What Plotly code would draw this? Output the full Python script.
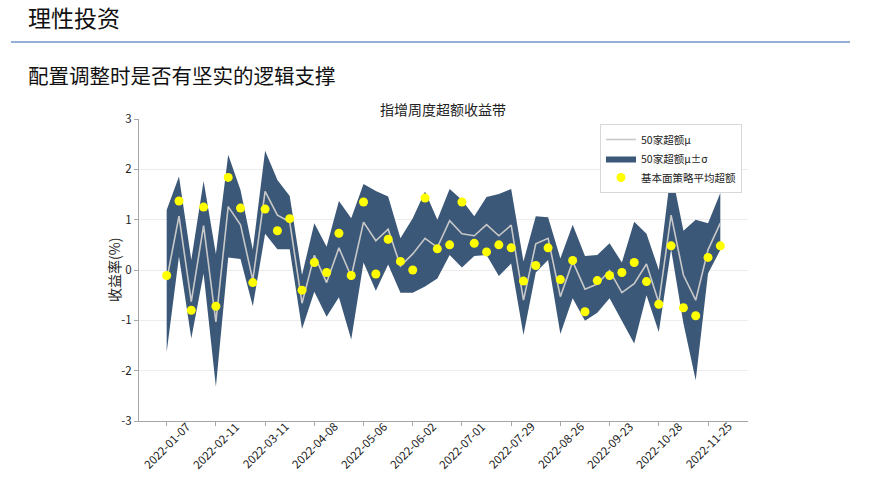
import plotly.graph_objects as go

dates = [
    "2022-01-07", "2022-01-14", "2022-01-21", "2022-01-28", "2022-02-11", "2022-02-18",
    "2022-02-25", "2022-03-04", "2022-03-11", "2022-03-18", "2022-03-25", "2022-04-01",
    "2022-04-08", "2022-04-15", "2022-04-22", "2022-04-29", "2022-05-06", "2022-05-13",
    "2022-05-20", "2022-05-27", "2022-06-02", "2022-06-10", "2022-06-17", "2022-06-24",
    "2022-07-01", "2022-07-08", "2022-07-15", "2022-07-22", "2022-07-29", "2022-08-05",
    "2022-08-12", "2022-08-19", "2022-08-26", "2022-09-02", "2022-09-09", "2022-09-16",
    "2022-09-23", "2022-09-30", "2022-10-14", "2022-10-21", "2022-10-28", "2022-11-04",
    "2022-11-11", "2022-11-18", "2022-11-25", "2022-12-02",
]

upper = [1.19, 1.86, 0.20, 1.77, 0.32, 2.29, 1.59, 0.40, 2.37, 1.79, 1.47, -0.10,
         0.93, 0.46, 1.37, 1.03, 1.71, 1.57, 1.46, 0.63, 1.03, 1.56, 1.00, 1.61,
         1.39, 1.07, 1.45, 1.51, 1.61, 0.17, 1.07, 1.05, 0.23, 0.90, 0.28, 0.30,
         0.53, 0.15, 0.96, 0.72, 0.00, 1.99, 0.78, 1.00, 0.93, 1.53]

mu = [-0.20, 1.07, -0.63, 0.88, -1.03, 1.26, 0.90, -0.20, 1.56, 1.09, 0.96, -0.66,
      0.29, -0.25, 0.44, -0.13, 0.95, 0.58, 0.81, 0.08, 0.32, 0.63, 0.45, 0.98,
      0.72, 0.68, 0.90, 0.68, 0.89, -0.60, 0.52, 0.63, -0.53, 0.17, -0.38, -0.28,
      -0.01, -0.45, -0.27, 0.12, -0.65, 1.09, -0.10, -0.60, 0.40, 0.93]

lower = [-1.63, 0.27, -1.36, -0.07, -2.32, 0.25, 0.22, -0.72, 0.72, 0.41, 0.41, -1.17,
         -0.43, -0.93, -0.54, -1.38, 0.15, -0.41, 0.11, -0.45, -0.45, -0.33, -0.17, 0.30,
         0.05, 0.28, 0.30, -0.12, 0.13, -1.29, -0.05, 0.20, -1.27, -0.56, -1.01, -0.85,
         -0.56, -1.01, -1.46, -0.50, -1.23, 0.41, -1.06, -2.19, -0.07, 0.40]

strategy = [-0.11, 1.37, -0.80, 1.25, -0.72, 1.84, 1.23, -0.25, 1.21, 0.78, 1.02, -0.40,
            0.15, -0.05, 0.73, -0.11, 1.35, -0.08, 0.61, 0.17, 0.00, 1.43, 0.42, 0.50,
            1.35, 0.53, 0.36, 0.50, 0.44, -0.22, 0.09, 0.44, -0.19, 0.19, -0.83, -0.21,
            -0.11, -0.05, 0.15, -0.23, -0.68, 0.48, -0.75, -0.91, 0.25, 0.48]

x_tick_labels = dates[::4]
y_tick_values = [-3, -2, -1, 0, 1, 2, 3]
y_tick_labels = ["-3", "-2", "-1", "0", "1", "2", "3"]

FONT = "Noto Sans CJK SC"
BAND = "#3b5878"

fig = go.Figure()
fig.add_trace(go.Scatter(x=dates, y=upper, mode="lines", line=dict(width=0, color=BAND),
                         showlegend=False, hoverinfo="skip"))
fig.add_trace(go.Scatter(x=dates, y=lower, mode="lines", line=dict(width=0, color=BAND),
                         fill="tonexty", fillcolor=BAND, name="50家超额μ±σ", legendrank=2))
fig.add_trace(go.Scatter(x=dates, y=mu, mode="lines", line=dict(width=1.6, color="#c8c8c8"),
                         name="50家超额μ", legendrank=1))
fig.add_trace(go.Scatter(x=dates, y=strategy, mode="markers",
                         marker=dict(size=9, color="#ffff00", line=dict(width=0)),
                         name="基本面策略平均超额", legendrank=3))

FW, FH = 878, 493
L, R, T, B = 139, 748, 119, 421
W, H = R - L, B - T

def px(x):
    return (x - L) / W

def py(y):
    return (B - y) / H

annotations = [
    dict(text="理性投资", xref="paper", yref="paper", x=px(26), y=py(17),
         xanchor="left", yanchor="middle", showarrow=False,
         font=dict(size=23, family=FONT, color="#111111")),
    dict(text="配置调整时是否有坚实的逻辑支撑", xref="paper", yref="paper",
         x=px(26), y=py(75), xanchor="left", yanchor="middle", showarrow=False,
         font=dict(size=20.5, family=FONT, color="#111111")),
    dict(text="指增周度超额收益带", xref="paper", yref="paper",
         x=px(443), y=py(109), xanchor="center", yanchor="middle", showarrow=False,
         font=dict(size=14, family=FONT, color="#222222")),
    dict(text="收益率(%)", xref="paper", yref="paper", x=px(114), y=py(270),
         xanchor="center", yanchor="middle", showarrow=False, textangle=-90,
         font=dict(size=14, family=FONT, color="#222222")),
]
for lab in x_tick_labels:
    annotations.append(dict(text=lab, xref="x", yref="paper", x=lab, y=py(445),
                            xanchor="center", yanchor="middle", showarrow=False,
                            textangle=-45,
                            font=dict(size=11.5, family=FONT, color="#222222")))

fig.update_layout(
    width=FW, height=FH,
    margin=dict(l=L, r=FW - R, t=T, b=FH - B, autoexpand=False),
    paper_bgcolor="white", plot_bgcolor="white",
    font=dict(family=FONT, color="#222222", size=11),
    showlegend=True,
    legend=dict(x=px(742), y=py(124), xanchor="right", yanchor="top",
                traceorder="normal",
                bgcolor="white", bordercolor="#d8d8d8", borderwidth=1,
                font=dict(size=10.5, family=FONT), tracegroupgap=0,
                itemwidth=30),
    xaxis=dict(type="category", range=[-2.25, 47.25], tickmode="array",
               tickvals=x_tick_labels, showticklabels=False,
               showline=True, linecolor="#a6a6a6", linewidth=1.2,
               ticks="outside", ticklen=4, tickcolor="#a6a6a6", automargin=False,
               showgrid=False),
    yaxis=dict(range=[-3, 3], tickmode="array", tickvals=y_tick_values,
               ticktext=y_tick_labels,
               showline=True, linecolor="#a6a6a6", linewidth=1.2,
               ticks="outside", ticklen=4, tickcolor="#a6a6a6", automargin=False,
               showgrid=True, gridcolor="#ececec", gridwidth=1, zeroline=False,
               tickfont=dict(size=11.5, family=FONT)),
    shapes=[dict(type="line", xref="paper", yref="paper",
                 x0=px(11), x1=px(850), y0=py(42), y1=py(42),
                 line=dict(color="#94b0d4", width=2))],
    annotations=annotations,
)

fig.write_html("out.html", post_script="document.body.style.margin='0';",
               config={"displayModeBar": False})
